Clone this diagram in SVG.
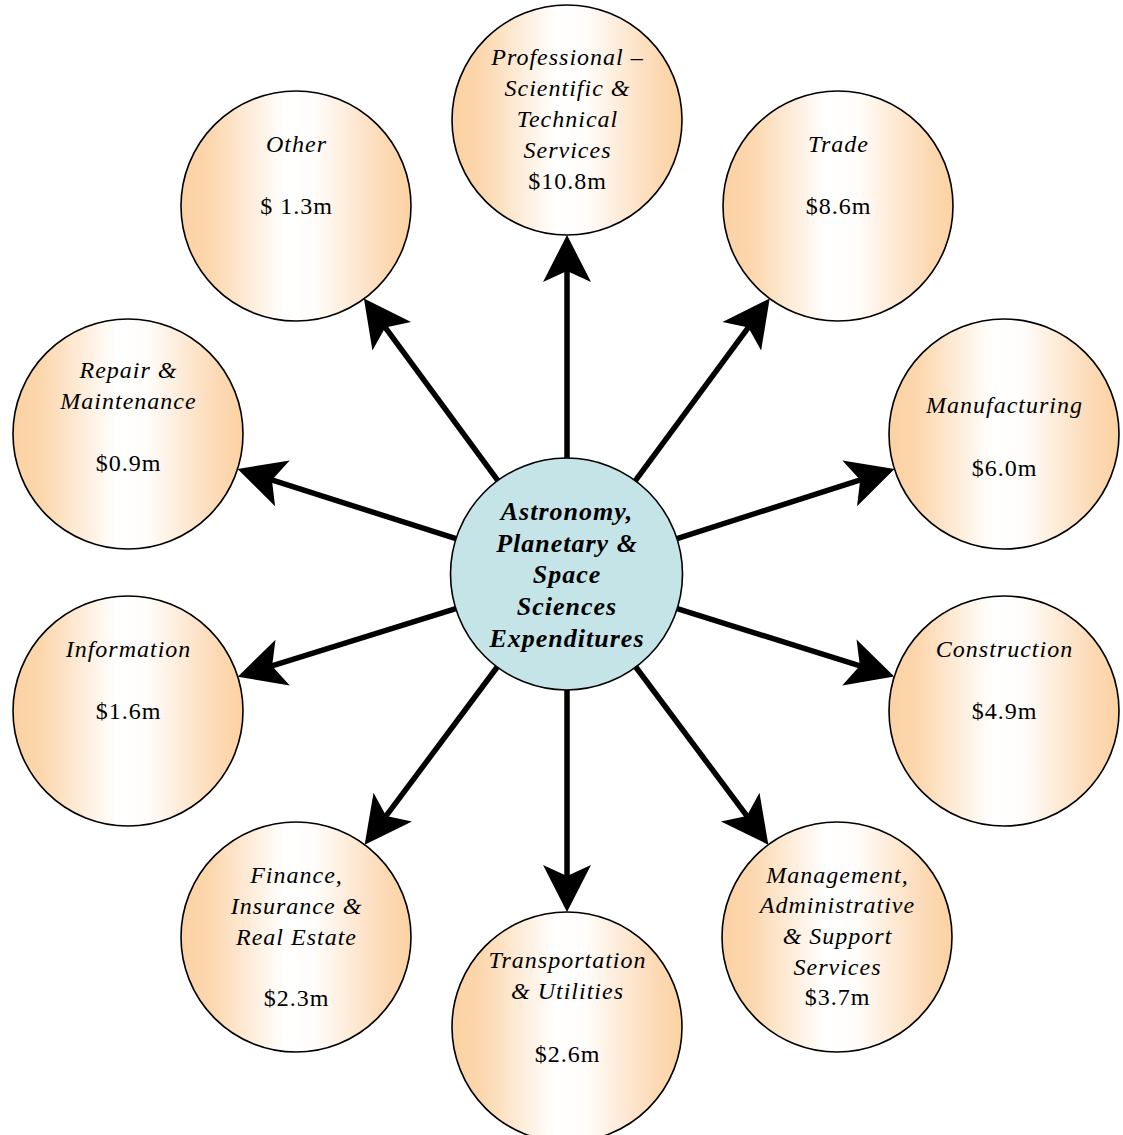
<svg xmlns="http://www.w3.org/2000/svg" width="1123" height="1135" viewBox="0 0 1123 1135">
<defs>
<linearGradient id="peach" x1="0" y1="0" x2="1" y2="0">
<stop offset="0" stop-color="#FBD2A4"/>
<stop offset="0.12" stop-color="#FCD6AC"/>
<stop offset="0.45" stop-color="#FFFFFF"/>
<stop offset="0.58" stop-color="#FFFDFB"/>
<stop offset="0.88" stop-color="#FCDAB6"/>
<stop offset="1" stop-color="#FCD2A2"/>
</linearGradient>
<marker id="head" markerUnits="userSpaceOnUse" markerWidth="60" markerHeight="60" refX="0" refY="0" viewBox="-20 -30 60 60" orient="auto" overflow="visible">
<path d="M30,0 L-17,-24 L-6,0 L-17,24 Z" fill="#000"/>
</marker>
</defs>
<style>
.node{fill:url(#peach);stroke:#000;stroke-width:1.6}
.hub{fill:#C5E4E7;stroke:#000;stroke-width:1.6}
.t{font-family:"Liberation Serif","Times New Roman",serif;font-size:24px;fill:#000;text-anchor:middle;letter-spacing:1px}
.i{font-style:italic}
.h{font-family:"Liberation Serif","Times New Roman",serif;font-size:26px;font-weight:bold;font-style:italic;fill:#000;text-anchor:middle;letter-spacing:1px}
.c line{stroke:#000;stroke-width:5.5;marker-end:url(#head)}
</style>
<rect width="1123" height="1135" fill="#fff"/>
<g id="connectors" class="c">
<line x1="567" y1="458" x2="567" y2="265"/>
<line x1="635.4" y1="480.7" x2="751.9" y2="322.6"/>
<line x1="677" y1="538.6" x2="865.9" y2="478.1"/>
<line x1="677.2" y1="608.7" x2="865.6" y2="667.6"/>
<line x1="635.8" y1="667" x2="750.4" y2="820.7"/>
<line x1="567" y1="690" x2="567" y2="882"/>
<line x1="497.2" y1="667" x2="382.6" y2="820.7"/>
<line x1="455.8" y1="608.6" x2="266.4" y2="667.7"/>
<line x1="456" y1="538.7" x2="266.2" y2="478.1"/>
<line x1="497.9" y1="480.7" x2="381.7" y2="322.6"/>
</g>
<g id="hub">
<circle class="hub" cx="566.5" cy="574" r="116"/>
<text class="h" x="567" y="520">Astronomy,</text>
<text class="h" x="567" y="552">Planetary &amp;</text>
<text class="h" x="567" y="583">Space</text>
<text class="h" x="567" y="615">Sciences</text>
<text class="h" x="567" y="647">Expenditures</text>
</g>
<g id="professional">
<circle class="node" cx="567" cy="120" r="115"/>
<text class="t i" x="567.5" y="65">Professional –</text>
<text class="t i" x="567.5" y="96">Scientific &amp;</text>
<text class="t i" x="567.5" y="127">Technical</text>
<text class="t i" x="567.5" y="158">Services</text>
<text class="t" x="567.5" y="189">$10.8m</text>
</g>
<g id="trade">
<circle class="node" cx="838" cy="206" r="115"/>
<text class="t i" x="838.5" y="152">Trade</text>
<text class="t" x="838.5" y="214">$8.6m</text>
</g>
<g id="manufacturing">
<circle class="node" cx="1004" cy="434" r="115"/>
<text class="t i" x="1004.5" y="413">Manufacturing</text>
<text class="t" x="1004.5" y="476">$6.0m</text>
</g>
<g id="construction">
<circle class="node" cx="1004" cy="711" r="115"/>
<text class="t i" x="1004.5" y="657">Construction</text>
<text class="t" x="1004.5" y="719">$4.9m</text>
</g>
<g id="management">
<circle class="node" cx="837" cy="937" r="115"/>
<text class="t i" x="837.5" y="883">Management,</text>
<text class="t i" x="837.5" y="913">Administrative</text>
<text class="t i" x="837.5" y="944">&amp; Support</text>
<text class="t i" x="837.5" y="975">Services</text>
<text class="t" x="837.5" y="1005">$3.7m</text>
</g>
<g id="transportation">
<circle class="node" cx="567" cy="1027" r="115"/>
<text class="t i" x="567.5" y="968">Transportation</text>
<text class="t i" x="567.5" y="999">&amp; Utilities</text>
<text class="t" x="567.5" y="1062">$2.6m</text>
</g>
<g id="finance">
<circle class="node" cx="296" cy="937" r="115"/>
<text class="t i" x="296.5" y="883">Finance,</text>
<text class="t i" x="296.5" y="914">Insurance &amp;</text>
<text class="t i" x="296.5" y="945">Real Estate</text>
<text class="t" x="296.5" y="1006">$2.3m</text>
</g>
<g id="information">
<circle class="node" cx="128" cy="711" r="115"/>
<text class="t i" x="128.5" y="657">Information</text>
<text class="t" x="128.5" y="719">$1.6m</text>
</g>
<g id="repair">
<circle class="node" cx="128" cy="434" r="115"/>
<text class="t i" x="128.5" y="378">Repair &amp;</text>
<text class="t i" x="128.5" y="409">Maintenance</text>
<text class="t" x="128.5" y="471">$0.9m</text>
</g>
<g id="other">
<circle class="node" cx="296" cy="206" r="115"/>
<text class="t i" x="296.5" y="152">Other</text>
<text class="t" x="296.5" y="214">$ 1.3m</text>
</g>
</svg>
